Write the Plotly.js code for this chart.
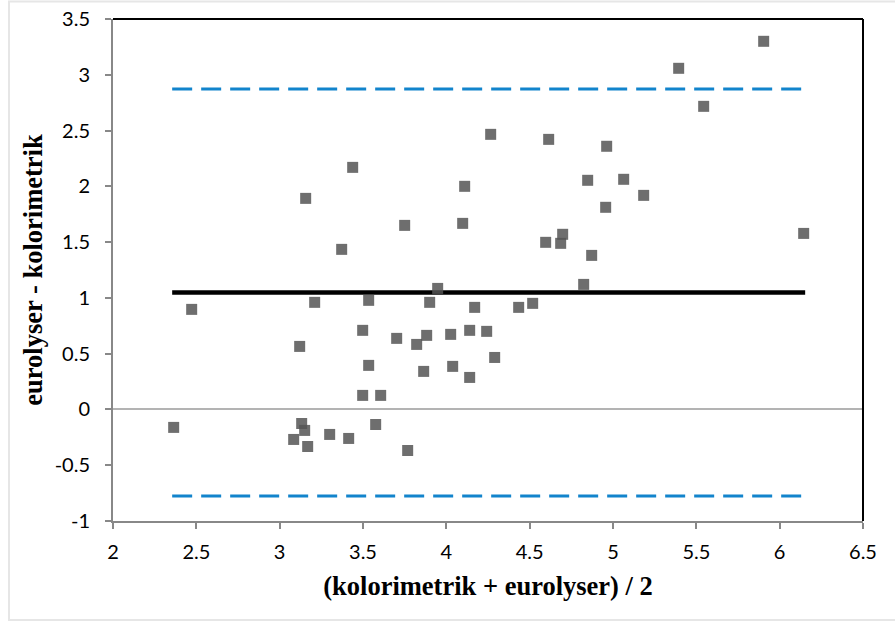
<!DOCTYPE html>
<html>
<head>
<meta charset="utf-8">
<script src="https://cdn.plot.ly/plotly-3.0.1.min.js"></script>
<style>html,body{margin:0;padding:0;background:#fff;}#chart{width:895px;height:626px;}</style>
</head>
<body>
<div id="chart"></div>
<script>
// (kolorimetrik + eurolyser) / 2
const meanX = [2.364, 2.472, 3.084, 3.120, 3.132, 3.150, 3.156, 3.168, 3.210, 3.300,
  3.372, 3.414, 3.438, 3.498, 3.498, 3.534, 3.534, 3.576, 3.606, 3.702,
  3.750, 3.768, 3.822, 3.864, 3.882, 3.900, 3.948, 4.026, 4.038, 4.098,
  4.110, 4.140, 4.140, 4.170, 4.242, 4.266, 4.290, 4.434, 4.518, 4.596,
  4.614, 4.686, 4.698, 4.824, 4.848, 4.872, 4.956, 4.962, 5.064, 5.184,
  5.394, 5.544, 5.904, 6.144];
// eurolyser - kolorimetrik
const diffY = [-0.161, 0.897, -0.269, 0.565, -0.126, -0.188, 1.892, -0.332, 0.960, -0.224,
  1.435, -0.260, 2.170, 0.709, 0.126, 0.978, 0.395, -0.135, 0.126, 0.637,
  1.650, -0.368, 0.583, 0.341, 0.664, 0.960, 1.085, 0.673, 0.386, 1.668,
  2.000, 0.709, 0.287, 0.915, 0.700, 2.466, 0.466, 0.915, 0.951, 1.498,
  2.421, 1.489, 1.570, 1.121, 2.054, 1.381, 1.812, 2.359, 2.063, 1.919,
  3.058, 2.717, 3.300, 1.578];
// reference lines (bias and limits of agreement)
const lineX = [2.355, 6.153];
const biasY = [1.049, 1.049];
const upperY = [2.873, 2.873];
const lowerY = [-0.775, -0.775];
const xTicks = [2, 2.5, 3, 3.5, 4, 4.5, 5, 5.5, 6, 6.5];
const yTicks = [-1, -0.5, 0, 0.5, 1, 1.5, 2, 2.5, 3, 3.5];

const blue = '#1284cc';
const traces = [
  {x: lineX, y: upperY, mode: 'lines', line: {color: blue, width: 3, dash: '20px,9px'}, hoverinfo: 'skip'},
  {x: lineX, y: lowerY, mode: 'lines', line: {color: blue, width: 3, dash: '20px,9px'}, hoverinfo: 'skip'},
  {x: lineX, y: biasY, mode: 'lines', line: {color: '#000', width: 4.5}, hoverinfo: 'skip'},
  {x: meanX, y: diffY, mode: 'markers', marker: {symbol: 'square', size: 11, color: 'rgb(85,85,85)', opacity: 0.85, line: {width: 0}}}
];

const tickFont = {family: 'Lato, "Open Sans", sans-serif', size: 20, color: '#000'};
const titleFont = {family: '"Liberation Serif", "Times New Roman", serif', size: 26.5, color: '#000'};

const layout = {
  width: 895, height: 626,
  margin: {l: 113, r: 32, t: 19, b: 105, autoexpand: false},
  paper_bgcolor: '#fff', plot_bgcolor: '#fff',
  showlegend: false,
  font: {family: 'Lato, sans-serif', size: 20, color: '#000'},
  xaxis: {
    range: [2, 6.5], tickmode: 'array', tickvals: xTicks, ticktext: xTicks.map(String),
    showgrid: false, zeroline: false, automargin: false,
    showline: true, linecolor: '#888', linewidth: 2,
    ticks: 'outside', ticklen: 6, tickcolor: '#888', tickwidth: 2,
    tickfont: tickFont, ticklabelstandoff: 6,
    title: {text: '<b>(kolorimetrik + eurolyser) / 2</b>', font: titleFont, standoff: 14}
  },
  yaxis: {
    range: [-1, 3.5], tickmode: 'array', tickvals: yTicks, ticktext: yTicks.map(String),
    showgrid: false, zeroline: true, zerolinecolor: '#b3b3b3', zerolinewidth: 2, automargin: false,
    showline: true, linecolor: '#888', linewidth: 2,
    ticks: 'outside', ticklen: 6, tickcolor: '#888', tickwidth: 2,
    tickfont: tickFont, ticklabelstandoff: 11,
    title: {text: '<b>eurolyser - kolorimetrik</b>', font: titleFont, standoff: 4}
  },
  shapes: [
    {type: 'line', xref: 'paper', yref: 'paper', x0: 0, x1: 1, y0: 1, y1: 1, line: {color: '#000', width: 2}},
    {type: 'line', xref: 'paper', yref: 'paper', x0: 1, x1: 1, y0: 0, y1: 1, line: {color: '#000', width: 2}},
    {type: 'rect', xref: 'paper', yref: 'paper', x0: -0.1387, x1: 1.06, y0: -0.197, y1: 1.035, line: {color: '#e6e6e6', width: 2}, layer: 'below'}
  ]
};

Plotly.newPlot('chart', traces, layout, {displayModeBar: false, staticPlot: true});
</script>
</body>
</html>
